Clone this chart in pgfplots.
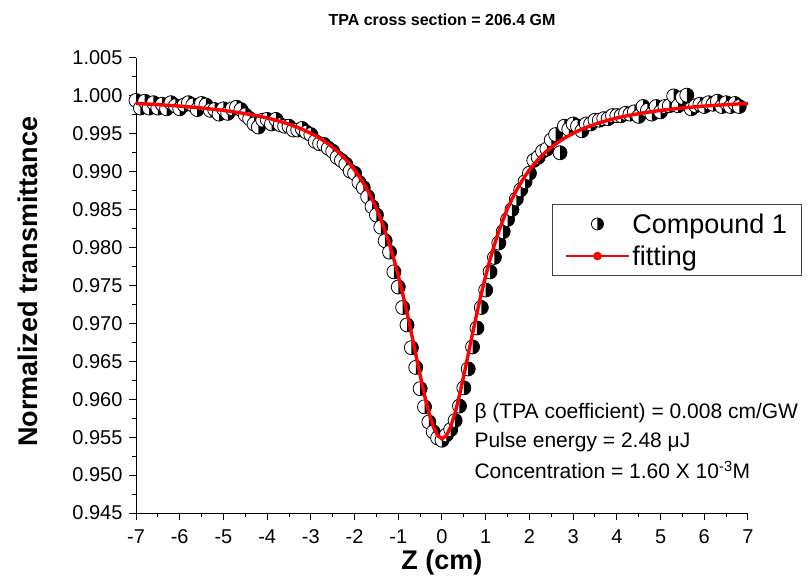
\documentclass[border=0pt]{standalone}
\usepackage{pgfplots}
\pgfplotsset{compat=1.18}
\usepackage{fontspec}
\setmainfont{Liberation Sans}
\pgfdeclareplotmark{halfR}{%
  \pgfpathcircle{\pgfpointorigin}{\pgfplotmarksize}%
  \pgfsetfillcolor{white}\pgfusepathqfill
  \pgfpathmoveto{\pgfqpoint{0pt}{\pgfplotmarksize}}%
  \pgfpatharc{90}{-90}{\pgfplotmarksize}%
  \pgfpathclose
  \pgfsetfillcolor{black}\pgfusepathqfill
  \pgfpathcircle{\pgfpointorigin}{\pgfplotmarksize}%
  \pgfusepathqstroke
}
\begin{document}
\begin{tikzpicture}
\begin{axis}[
  set layers,
  scale only axis, width=612pt, height=455pt,
  at={(0pt,0pt)}, anchor=south west,
  xmin=-7, xmax=7, ymin=0.945, ymax=1.005,
  axis x line=bottom, axis y line=left,
  axis line style={-, line width=1pt},
  xtick={-7,-6,...,7},
  ytick={0.945,0.950,...,1.0051},
  minor x tick num=1, minor y tick num=1,
  tick align=outside,
  major tick length=7pt, minor tick length=4pt,
  every tick/.style={black, line width=1pt},
  scaled y ticks=false,
  yticklabel style={xshift=-3pt, /pgf/number format/.cd, fixed, fixed zerofill, precision=3},
  /pgf/number format/assume math mode=true,
  ticklabel style={font=\fontsize{20}{24}\selectfont},
  xticklabel style={yshift=-6pt},
  clip=false,
  title={\bfseries TPA cross section = 206.4 GM},
  title style={at={(rel axis cs:0.5,1)}, anchor=center, yshift=32pt, font=\fontsize{16}{19}\selectfont},
  xlabel={\bfseries Z (cm)},
  xlabel style={at={(rel axis cs:0.5,0)}, anchor=center, yshift=-50pt, font=\fontsize{27}{30}\selectfont},
  ylabel={\bfseries Normalized transmittance},
  ylabel style={at={(rel axis cs:0,0.508)}, anchor=center, yshift=108pt, font=\fontsize{27}{30}\selectfont},
  legend style={at={(rel axis cs:0.680,0.679)}, anchor=north west,
    draw=black!75, line width=0.8pt, inner xsep=12pt, inner ysep=7pt,
    font=\fontsize{27}{30}\selectfont, cells={anchor=west},
    row sep=7pt},
]
\addplot[only marks, mark=halfR, mark size=7pt, line width=0.8pt,
  legend image code/.code={\path[draw=none,fill=none] (0pt,-8pt) rectangle (63pt,8pt);
    \draw[mark=halfR, mark size=6pt, line width=0.8pt] plot coordinates {(31.5pt,0pt)};}]
coordinates {
(-7.0,0.9994)(-6.9,0.9984)(-6.8,0.9993)(-6.7,0.9984)(-6.6,0.9991)(-6.5,0.9984)
(-6.4,0.9989)(-6.3,0.9983)(-6.2,0.9991)(-6.1,0.9987)(-6.0,0.9983)(-5.9,0.9988)
(-5.8,0.9991)(-5.7,0.9988)(-5.6,0.9982)(-5.5,0.9990)(-5.4,0.9988)(-5.3,0.9981)
(-5.2,0.9982)(-5.1,0.9976)(-5.0,0.9983)(-4.9,0.9977)(-4.8,0.9983)(-4.7,0.9985)
(-4.6,0.9982)(-4.5,0.9975)(-4.4,0.9970)(-4.3,0.9963)(-4.2,0.9959)(-4.1,0.9968)
(-4.0,0.9969)(-3.9,0.9963)(-3.8,0.9969)(-3.7,0.9962)(-3.6,0.9960)(-3.5,0.9960)
(-3.4,0.9955)(-3.3,0.9955)(-3.2,0.9957)(-3.1,0.9952)(-3.0,0.9949)(-2.9,0.9940)
(-2.8,0.9937)(-2.7,0.9936)(-2.6,0.9931)(-2.5,0.9927)(-2.4,0.9919)(-2.3,0.9915)
(-2.2,0.9910)(-2.1,0.9901)(-2.0,0.9898)(-1.9,0.9886)(-1.8,0.9879)(-1.7,0.9867)
(-1.6,0.9854)(-1.5,0.9843)(-1.4,0.9827)(-1.3,0.9809)(-1.2,0.9794)(-1.1,0.9768)
(-1.0,0.9748)(-0.9,0.9721)(-0.8,0.9698)(-0.7,0.9668)(-0.6,0.9642)(-0.5,0.9614)
(-0.4,0.9590)(-0.3,0.9570)(-0.2,0.9557)(-0.1,0.9549)(0.0,0.9546)
(0.1,0.9553)(0.2,0.9560)(0.3,0.9572)(0.4,0.9591)(0.5,0.9615)(0.6,0.9640)
(0.7,0.9669)(0.8,0.9694)(0.9,0.9721)(1.0,0.9744)(1.1,0.9768)(1.2,0.9787)
(1.3,0.9806)(1.4,0.9821)(1.5,0.9837)(1.6,0.9850)(1.7,0.9864)(1.8,0.9876)
(1.9,0.9887)(2.0,0.9898)(2.1,0.9915)(2.2,0.9919)(2.3,0.9927)(2.4,0.9930)
(2.5,0.9942)(2.6,0.9949)(2.7,0.9925)(2.8,0.9960)(2.9,0.9956)(3.0,0.9963)
(3.1,0.9960)(3.2,0.9954)(3.3,0.9963)(3.4,0.9963)(3.5,0.9968)(3.6,0.9968)
(3.7,0.9970)(3.8,0.9970)(3.9,0.9974)(4.0,0.9974)(4.1,0.9974)(4.2,0.9977)
(4.3,0.9976)(4.4,0.9979)(4.5,0.9973)(4.6,0.9986)(4.7,0.9981)(4.8,0.9976)
(4.9,0.9986)(5.0,0.9979)(5.1,0.9986)(5.2,0.9987)(5.3,1.0000)(5.4,0.9987)
(5.5,0.9998)(5.6,1.0001)(5.7,0.9983)(5.8,0.9987)(5.9,0.9989)(6.0,0.9986)
(6.1,0.9991)(6.2,0.9989)(6.3,0.9993)(6.4,0.9986)(6.5,0.9991)(6.6,0.9986)
(6.7,0.9990)(6.8,0.9986)
};
\addlegendentry{Compound 1}
\addplot[red, line width=3.4pt, no marks, on layer=axis foreground,
  legend image code/.code={\path[draw=none,fill=none] (0pt,-8pt) rectangle (63pt,8pt);
    \draw[red, line width=2.8pt] (0pt,0pt) -- (63pt,0pt);
    \fill[red] (31.5pt,0pt) circle (2.5pt);}]
coordinates {
(-7.0,0.99901)(-6.5,0.99885)(-6.0,0.99866)(-5.5,0.99841)(-5.0,0.99809)(-4.6,0.99776)
(-4.3,0.99746)(-4.0,0.99709)(-3.8,0.99679)(-3.6,0.99646)(-3.4,0.99606)(-3.2,0.99561)
(-3.0,0.99507)(-2.9,0.99476)(-2.8,0.99443)(-2.7,0.99406)(-2.6,0.99366)(-2.5,0.99322)
(-2.4,0.99274)(-2.3,0.99220)(-2.2,0.99161)(-2.1,0.99096)(-2.0,0.99023)(-1.9,0.98943)
(-1.8,0.98852)(-1.7,0.98752)(-1.6,0.98639)(-1.5,0.98514)(-1.4,0.98373)(-1.3,0.98215)
(-1.2,0.98040)(-1.1,0.97845)(-1.0,0.97630)(-0.9,0.97394)(-0.8,0.97140)(-0.7,0.96871)
(-0.6,0.96593)(-0.5,0.96316)(-0.4,0.96053)(-0.3,0.95821)(-0.2,0.95638)(-0.1,0.95521)
(0.0,0.95480)
(0.1,0.95521)(0.2,0.95638)(0.3,0.95821)(0.4,0.96053)(0.5,0.96316)(0.6,0.96593)
(0.7,0.96871)(0.8,0.97140)(0.9,0.97394)(1.0,0.97630)(1.1,0.97845)(1.2,0.98040)
(1.3,0.98215)(1.4,0.98373)(1.5,0.98514)(1.6,0.98639)(1.7,0.98752)(1.8,0.98852)
(1.9,0.98943)(2.0,0.99023)(2.1,0.99096)(2.2,0.99161)(2.3,0.99220)(2.4,0.99274)
(2.5,0.99322)(2.6,0.99366)(2.7,0.99406)(2.8,0.99443)(2.9,0.99476)(3.0,0.99507)
(3.2,0.99561)(3.4,0.99606)(3.6,0.99646)(3.8,0.99679)(4.0,0.99709)(4.3,0.99746)
(4.6,0.99776)(5.0,0.99809)(5.5,0.99841)(6.0,0.99866)(6.5,0.99885)(7.0,0.99901)
};
\addlegendentry{fitting}
\node[anchor=west, font=\fontsize{21}{24}\selectfont, inner sep=0pt] at (axis cs:0.74,0.95818) {β (TPA coefficient) = 0.008 cm/GW};
\node[anchor=west, font=\fontsize{21}{24}\selectfont, inner sep=0pt] at (axis cs:0.74,0.95436) {Pulse energy = 2.48 μJ};
\node[anchor=west, font=\fontsize{21}{24}\selectfont, inner sep=0pt] at (axis cs:0.74,0.95067) {Concentration = 1.60 X 10\textsuperscript{-3}M};
\end{axis}
\pgfresetboundingbox
\path[use as bounding box] (-136pt,-65pt) rectangle (674pt,513pt);
\end{tikzpicture}
\end{document}
